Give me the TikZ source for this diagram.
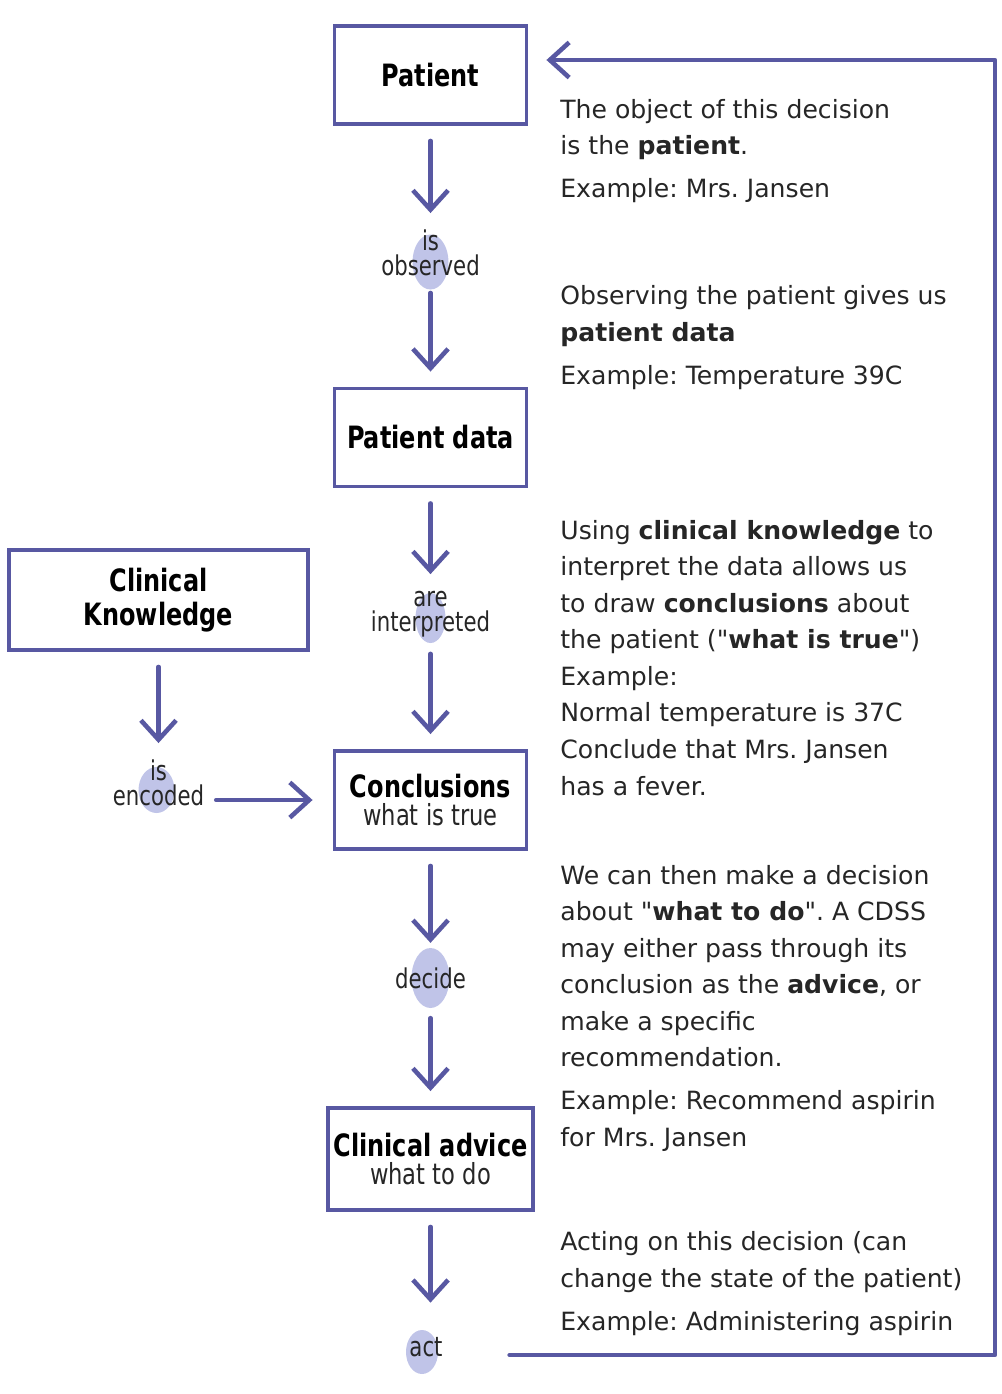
\documentclass[tikz,border=0pt]{standalone}
\usepackage{fontspec}
\setmainfont{DejaVu Sans}
\newfontfamily\narrowfont{DejaVu Sans}[FakeStretch=0.78]
\usepackage{tikz}
\usetikzlibrary{arrows.meta, positioning, calc, backgrounds}

\definecolor{linkblue}{RGB}{88,88,162}
\definecolor{bubble}{RGB}{192,196,232}
\definecolor{inkgray}{RGB}{38,38,38}

\begin{document}
\frenchspacing
\begin{tikzpicture}[
    >={Straight Barb[length=11pt, width=20pt]},
    box/.style={
        draw=linkblue, line width=2.2pt, minimum width=3.84cm, minimum height=1.96cm, align=center, fill=white,
        font=\narrowfont\bfseries\fontsize{17.5}{19}\selectfont
    },
    sub/.style={font=\narrowfont\mdseries\fontsize{16.5}{19}\selectfont},
    verb/.style={
        align=center, inner sep=1pt, text=inkgray, font=\narrowfont\fontsize{15.5}{14}\selectfont
    },
    note/.style={
        anchor=base west, align=left, inner sep=0pt, text=inkgray, font=\fontsize{14.3}{20.8}\selectfont
    },
    flow/.style={->, draw=linkblue, line width=2.6pt, line cap=round, line join=round, shorten <=0.3cm, shorten >=0.3cm}
]

\useasboundingbox (0,0) rectangle (20.02,-27.88);

% BOXES
\node[box] (patient) at (8.61,-1.50) {Patient};
\node[box] (pdata) at (8.61,-8.75) {Patient data};
\node[box] (concl) at (8.61,-16.00) {Conclusions\\[-3.5pt]{\narrowfont\mdseries\fontsize{16.5}{19}\selectfont\color{inkgray}what is true}};
\node[box, minimum width=4.0cm, minimum height=2.04cm] (advice) at (8.61,-23.18) {Clinical advice\\[-3.5pt]{\narrowfont\mdseries\fontsize{16.5}{19}\selectfont\color{inkgray}what to do}};
\node[box, minimum width=5.98cm, minimum height=2.0cm] (know) at (3.17,-12.00) {Clinical\\Knowledge};

% VERBS
\node[verb] (obs) at (8.61,-5.06) {is\\observed};
\node[verb] (interp) at (8.61,-12.28) {are\\interpreted};
\node[verb] (decide) at (8.61,-19.56) {decide};
\node[verb] (act) at (8.52,-26.94) {act};
\node[verb] (enc) at (3.17,-15.66) {is\\encoded};

\begin{scope}[on background layer]
\fill[bubble] ($(obs)+(0,-0.18)$) ellipse (0.36 and 0.55);
\fill[bubble] ($(interp)+(0,-0.08)$) ellipse (0.3 and 0.5);
\fill[bubble] (decide) ellipse (0.38 and 0.6);
\fill[bubble] ($(act)+(-0.08,-0.1)$) ellipse (0.32 and 0.44);
\fill[bubble] ($(enc)+(-0.04,-0.14)$) ellipse (0.36 and 0.46);
\end{scope}

% NOTES (anchored at the baseline of the last line)
\node[note] (note1) at (11.2,-3.95) {The object of this decision\\is the \textbf{patient}.\\[3.4pt]Example: Mrs. Jansen};
\node[note] (note2) at (11.2,-7.68) {Observing the patient gives us\\\textbf{patient data}\\[3.4pt]Example: Temperature 39C};
\node[note] (note3) at (11.2,-15.90) {Using \textbf{clinical knowledge} to\\interpret the data allows us\\to draw \textbf{conclusions} about\\the patient (\textquotedbl\textbf{what is true}\textquotedbl)\\Example:\\Normal temperature is 37C\\Conclude that Mrs. Jansen\\has a fever.};
\node[note] (note4) at (11.2,-22.92) {We can then make a decision\\about \textquotedbl\textbf{what to do}\textquotedbl. A CDSS\\may either pass through its\\conclusion as the \textbf{advice}, or\\make a specific\\recommendation.\\[3.4pt]Example: Recommend aspirin\\for Mrs. Jansen};
\node[note] (note5) at (11.2,-26.60) {Acting on this decision (can\\change the state of the patient)\\[3.4pt]Example: Administering aspirin};

% FLOWS
\draw[flow] (patient) -- (obs);
\draw[flow] (obs) -- (pdata);
\draw[flow] (pdata) -- (interp);
\draw[flow] (interp) -- (concl);
\draw[flow, shorten >=0.45cm] (concl) -- (decide);
\draw[flow, shorten <=0.55cm] (decide) -- (advice);
\draw[flow, shorten >=0.65cm] (advice.south) -- (advice.south |- act.north);
\draw[flow] (know) -- (enc);
\draw[flow, shorten <=0.2cm, shorten >=0.4cm] (enc.east |- concl.west) -- (concl.west);

% Feedback to the patient
\coordinate (corner) at (19.9,-27.1);
\draw[flow, shorten <=1.3cm, shorten >=0.36cm] (act.east |- corner) -- (corner) |- ([yshift=0.3cm]patient.east);

\end{tikzpicture}
\end{document}
